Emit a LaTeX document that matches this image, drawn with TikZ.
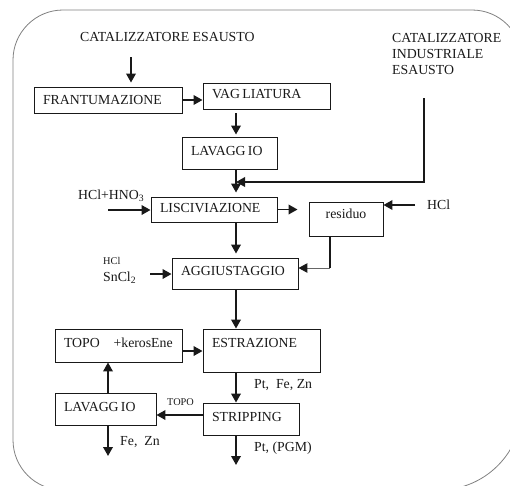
\documentclass[tikz,border=0pt]{standalone}
\usepackage{fontspec}
\setmainfont{Liberation Serif}
\usetikzlibrary{arrows.meta,calc}
\begin{document}
\begin{tikzpicture}[x=1pt,y=-1pt,
  base/.style={font=\fontsize{13.8}{16}\selectfont, text=black!90},
  stepbox/.style={base, draw=black!90, line width=0.9pt, inner xsep=9pt, inner ysep=0pt, align=left, text height=9pt},
  arr/.style={line width=1.9pt, draw=black!90, -{Triangle[length=9pt,width=9.5pt]}},
  thin arr/.style={line width=1pt, draw=black!60, -{Triangle[length=9pt,width=9.5pt,color=black!90]}},
  lbl/.style={base, inner sep=0pt, anchor=base west},
  small/.style={font=\fontsize{10.3}{12}\selectfont},
  border/.style={draw=black!50, line width=0.8pt}
]
\useasboundingbox (0,0) rectangle (510,485);
% outer frame
\draw[border, rounded corners=50pt] (300,490) -| (13,10) -| (522,300);
\draw[border, rounded corners=83pt] (522,300) |- (300,490);

% boxes
\node[stepbox, text width=130pt, minimum height=26pt, text depth=1pt] (fr) at (108,100) {FRANTUMAZIONE};
\node[stepbox, text width=109pt, minimum height=26pt, text depth=4pt] (vag) at (266.5,96) {VAG\,LIATURA};
\node[stepbox, text width=77pt, minimum height=32pt, text depth=4pt] (lav1) at (229.5,153) {LAVAGG\,IO};
\node[stepbox, text width=108pt, minimum height=25pt, text depth=3pt] (lis) at (214,209.5) {LISCIVIAZIONE};
\node[stepbox, text width=108pt, minimum height=31pt, text depth=6pt] (agg) at (235,273.5) {AGGIUSTAGGIO};
\node[stepbox, text width=56pt, minimum height=34pt, text depth=10pt, align=center] (res) at (346,219) {residuo};
\node[stepbox, text width=109pt, minimum height=33pt, text depth=5pt] (topo) at (118.5,345.5) {TOPO\ \ \ +kerosEne};
\node[stepbox, text width=99pt, minimum height=43pt, text depth=15pt] (est) at (261.5,350.5) {ESTRAZIONE};
\node[stepbox, text width=78pt, minimum height=32pt, text depth=5pt] (str) at (251,419) {STRIPPING};
\node[stepbox, text width=83pt, minimum height=32pt, text depth=5pt] (lav2) at (105.5,409) {LAVAGG\,IO};

% labels
\node[lbl] (cat) at (80,41.5) {CATALIZZATORE ESAUSTO};
\node[base, inner sep=0pt, anchor=north west, align=left] (ind) at (392,33.5) {CATALIZZATORE\\INDUSTRIALE\\ESAUSTO};
\node[lbl] (hno) at (78,199.5) {HCl+HNO\textsubscript{3}};
\node[lbl, small] (hcls) at (103,264.5) {HCl};
\node[lbl] (sn) at (103,281.5) {SnCl\textsubscript{2}};
\node[lbl] (hclr) at (427,209.5) {HCl};
\node[lbl] (pfz) at (254,388.5) {Pt,\ \ Fe, Zn};
\node[lbl] (ppgm) at (254,451.5) {Pt, (PGM)};
\node[lbl, small] (topol) at (167,405.5) {TOPO};
\node[lbl] (fezn) at (120,445.5) {Fe,\ \ Zn};

% helper coordinates
\coordinate (col) at (236,0);
\coordinate (cx2) at (108,0);
\coordinate (c1) at (131,57);
\coordinate (c2) at (424,98);
\coordinate (j1) at (236,182);
\coordinate (c3) at (108,210);
\coordinate (c4) at (150,274);
\coordinate (c5) at (415,205);
\coordinate (j2) at (330,268);
\coordinate (r1) at (0,351);
\coordinate (r2) at (0,415);
\coordinate (e1) at (236,465);
\coordinate (e2) at (108,456);

% connectors
\draw[arr, shorten >=4pt] (c1) -- (c1 |- fr.north);
\draw[arr] (fr.east) -- (fr.east -| vag.west);
\draw[arr, shorten <=4pt, shorten >=2pt] (vag.south -| col) -- (lav1.north -| col);
\draw[arr, shorten >=4pt] (lav1.south -| col) -- (lis.north -| col);
\draw[arr] (c2) |- (j1);
\draw[arr] (c3) -- (c3 -| lis.west);
\draw[arr, shorten >=11pt] (lis.east) -- (lis.east -| res.west);
\draw[arr] (c5) -- (c5 -| res.east);
\draw[arr, shorten >=4pt] (lis.south -| col) -- (agg.north -| col);
\draw[arr] (c4) -- (c4 -| agg.west);
\draw[line width=1.9pt, draw=black!90] (res.south -| j2) -- (j2);
\draw[thin arr] (j2) -- (j2 -| agg.east);
\draw[arr] (agg.south -| col) -- (est.north -| col);
\draw[arr] (topo.east |- r1) -- (est.west |- r1);
\draw[arr] (est.south -| col) -- (str.north -| col);
\draw[arr] (str.south -| col) -- (e1);
\draw[arr] (str.west |- r2) -- (lav2.east |- r2);
\draw[arr] (lav2.north -| cx2) -- (topo.south -| cx2);
\draw[arr] (lav2.south -| cx2) -- (e2);
\end{tikzpicture}
\end{document}
